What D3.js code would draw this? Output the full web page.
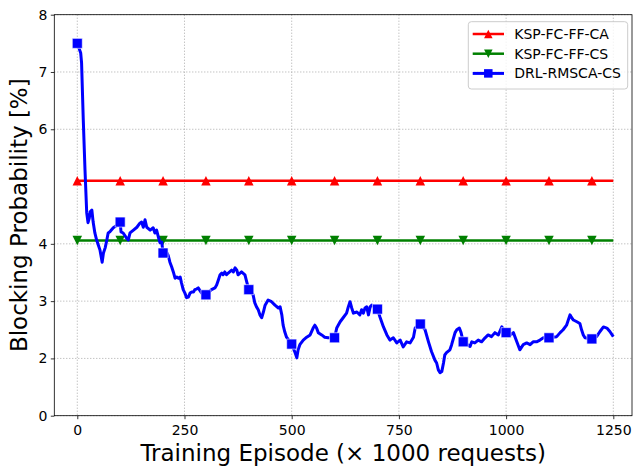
<!DOCTYPE html>
<html>
<head>
<meta charset="utf-8">
<script src="https://cdn.jsdelivr.net/npm/d3@7"></script>
<style>
body { margin: 0; background: #fff; }
svg { display: block; font-family: "DejaVu Sans", sans-serif; }
</style>
</head>
<body>
<div id="chart"></div>
<script>
// values
var episodes = [
  0, 8, 10, 14, 18, 22, 25, 28, 30, 34,
  37, 41, 45, 49, 53, 58, 61, 65, 69, 72,
  76, 84, 90, 100, 102, 107, 115, 119, 123, 131,
  139, 146, 150, 154, 158, 162, 170, 177, 181, 185,
  189, 193, 197, 200, 206, 212, 216, 220, 224, 228,
  232, 236, 240, 243, 247, 251, 255, 259, 263, 267,
  271, 274, 278, 282, 290, 300, 313, 321, 325, 329,
  333, 337, 340, 344, 348, 352, 360, 364, 368, 372,
  375, 383, 391, 395, 400, 410, 414, 418, 422, 426,
  430, 434, 438, 445, 453, 461, 469, 473, 477, 480,
  484, 488, 500, 508, 512, 515, 519, 527, 535, 543,
  550, 554, 558, 562, 570, 577, 585, 600, 605, 613,
  620, 628, 632, 636, 640, 644, 652, 659, 663, 667,
  671, 675, 679, 683, 687, 700, 706, 714, 722, 729,
  737, 745, 753, 760, 768, 776, 784, 788, 800, 811,
  819, 826, 834, 838, 842, 846, 850, 854, 857, 861,
  869, 873, 881, 885, 891, 895, 900, 916, 920, 927,
  935, 943, 951, 958, 966, 974, 982, 990, 1000, 1009,
  1017, 1025, 1032, 1040, 1048, 1056, 1063, 1071, 1079, 1087,
  1100, 1118, 1126, 1133, 1141, 1149, 1153, 1157, 1165, 1172,
  1176, 1180, 1184, 1200, 1211, 1219, 1227, 1235, 1242, 1250
];
var drlValues = [
  7.50, 7.33, 7.16, 6.16, 5.29, 4.54, 4.37, 4.45, 4.56, 4.59,
  4.38, 4.19, 4.07, 3.98, 3.89, 3.68, 3.84, 3.93, 4.07, 4.19,
  4.21, 4.28, 4.31, 4.38, 4.21, 4.19, 4.10, 4.07, 4.19, 4.24,
  4.29, 4.36, 4.38, 4.29, 4.42, 4.29, 4.24, 4.28, 4.19, 4.24,
  4.12, 4.02, 4.03, 3.84, 3.89, 3.80, 3.68, 3.60, 3.51, 3.40,
  3.42, 3.40, 3.42, 3.32, 3.20, 3.14, 3.06, 3.07, 3.14, 3.16,
  3.16, 3.20, 3.21, 3.23, 3.14, 3.11, 3.20, 3.23, 3.28, 3.37,
  3.46, 3.49, 3.46, 3.51, 3.46, 3.49, 3.54, 3.51, 3.58, 3.54,
  3.46, 3.51, 3.46, 3.34, 3.20, 3.11, 2.97, 2.90, 2.85, 2.76,
  2.71, 2.81, 2.93, 3.02, 2.99, 2.93, 2.88, 2.90, 2.76, 2.58,
  2.46, 2.37, 2.25, 2.10, 2.01, 2.15, 2.24, 2.32, 2.37, 2.41,
  2.53, 2.58, 2.53, 2.45, 2.41, 2.37, 2.36, 2.36, 2.53, 2.64,
  2.71, 2.79, 2.90, 2.99, 2.88, 2.79, 2.81, 2.76, 2.85, 2.79,
  2.88, 2.90, 2.76, 2.90, 2.93, 2.86, 2.72, 2.55, 2.41, 2.32,
  2.36, 2.27, 2.32, 2.20, 2.29, 2.27, 2.37, 2.53, 2.60, 2.50,
  2.29, 2.12, 1.97, 1.92, 1.80, 1.75, 1.77, 1.92, 2.06, 2.10,
  2.15, 2.24, 2.45, 2.50, 2.53, 2.45, 2.29, 2.21, 2.29, 2.27,
  2.32, 2.29, 2.36, 2.41, 2.38, 2.45, 2.41, 2.55, 2.45, 2.41,
  2.45, 2.29, 2.15, 2.24, 2.27, 2.24, 2.29, 2.29, 2.32, 2.36,
  2.36, 2.38, 2.45, 2.50, 2.58, 2.76, 2.71, 2.67, 2.64, 2.61,
  2.50, 2.41, 2.36, 2.34, 2.38, 2.47, 2.55, 2.53, 2.47, 2.38
];
var markerEpisodes = [0, 100, 200, 300, 400, 500, 600, 700, 800, 900, 1000, 1100, 1200];
var caLevel = 5.1;    // KSP-FC-FF-CA
var csLevel = 4.06;   // KSP-FC-FF-CS
var lastEpisode = 1250;

var xTicks = [0, 250, 500, 750, 1000, 1250];
var yTicks = [1, 2, 3, 4, 6, 7, 8];
var yTickLabels = ["0", "2", "3", "4", "6", "7", "8"];
var seriesNames = ["KSP-FC-FF-CA", "KSP-FC-FF-CS", "DRL-RMSCA-CS"];
var seriesColors = ["#ff0000", "#008000", "#0000ff"];

// dimensions
var svgWidth = 634, svgHeight = 466;
var margin = {top: 14.7, right: 2, bottom: 50.3, left: 54.3};
var width = svgWidth - margin.left - margin.right;
var height = svgHeight - margin.top - margin.bottom;

var svg = d3.select("#chart").append("svg")
  .attr("width", svgWidth)
  .attr("height", svgHeight);

var chartGroup = svg.append("g")
  .attr("transform", "translate(" + margin.left + "," + margin.top + ")");

var xScale = d3.scaleLinear().domain([-53.6, 1293.6]).range([0, width]);
var yScale = d3.scaleLinear().domain([1, 8]).range([height, 0]);

// grid
chartGroup.append("g").selectAll("line").data(xTicks).enter().append("line")
  .attr("x1", d => xScale(d)).attr("x2", d => xScale(d))
  .attr("y1", 0).attr("y2", height)
  .attr("stroke", "#aaaaaa").attr("stroke-width", 1).attr("stroke-dasharray", "1,2");
chartGroup.append("g").selectAll("line").data(yTicks).enter().append("line")
  .attr("x1", 0).attr("x2", width)
  .attr("y1", d => yScale(d)).attr("y2", d => yScale(d))
  .attr("stroke", "#aaaaaa").attr("stroke-width", 1).attr("stroke-dasharray", "1,2");

// marker shapes
function triUp(s) { return "M0," + (-s / 2) + "L" + (s / 2) + "," + (s / 2) + "L" + (-s / 2) + "," + (s / 2) + "Z"; }
function triDown(s) { return "M0," + (s / 2) + "L" + (s / 2) + "," + (-s / 2) + "L" + (-s / 2) + "," + (-s / 2) + "Z"; }
function square(s) { return "M" + (-s / 2) + "," + (-s / 2) + "h" + s + "v" + s + "h" + (-s) + "Z"; }

var line = d3.line().x(d => xScale(d[0])).y(d => yScale(d[1]));

// constant baselines
[[caLevel, seriesColors[0], triUp], [csLevel, seriesColors[1], triDown]].forEach(function(s) {
  chartGroup.append("path")
    .datum([[0, s[0]], [lastEpisode, s[0]]])
    .attr("d", line)
    .attr("fill", "none").attr("stroke", s[1]).attr("stroke-width", 2.5);
  chartGroup.append("g").selectAll("path").data(markerEpisodes).enter().append("path")
    .attr("transform", d => "translate(" + xScale(d) + "," + yScale(s[0]) + ")")
    .attr("d", s[2](9.5))
    .attr("fill", s[1]);
});

// DRL curve
var drlData = episodes.map((e, i) => [e, drlValues[i]]);
chartGroup.append("path")
  .datum(drlData)
  .attr("d", line)
  .attr("fill", "none").attr("stroke", seriesColors[2])
  .attr("stroke-width", 3).attr("stroke-linejoin", "round");
chartGroup.append("g").selectAll("path")
  .data(drlData.filter(d => markerEpisodes.indexOf(d[0]) >= 0))
  .enter().append("path")
  .attr("transform", d => "translate(" + xScale(d[0]) + "," + yScale(d[1]) + ")")
  .attr("d", square(10))
  .attr("fill", seriesColors[2])
  .attr("stroke", "#ffffff").attr("stroke-opacity", 0.6).attr("stroke-width", 1);

// axes
var bottomAxis = d3.axisBottom(xScale).tickValues(xTicks).tickSize(3.5).tickPadding(6).tickSizeOuter(0)
  .tickFormat(d3.format("d"));
var leftAxis = d3.axisLeft(yScale).tickValues(yTicks).tickSize(3.5).tickPadding(3.5).tickSizeOuter(0)
  .tickFormat((d, i) => yTickLabels[i]);

var gx = chartGroup.append("g").attr("transform", "translate(0," + height + ")").call(bottomAxis);
var gy = chartGroup.append("g").call(leftAxis);
[gx, gy].forEach(function(g) {
  g.select(".domain").remove();
  g.selectAll("line").attr("stroke", "#000").attr("stroke-width", 0.8);
  g.selectAll("text").attr("fill", "#000").style("font-size", "14px").style("font-family", "DejaVu Sans");
});

// frame
chartGroup.append("rect")
  .attr("width", width).attr("height", height)
  .attr("fill", "none").attr("stroke", "#000").attr("stroke-width", 0.8);

// axis labels
svg.append("text")
  .attr("x", margin.left + width / 2).attr("y", 461)
  .attr("text-anchor", "middle")
  .style("font-size", "23px")
  .text("Training Episode (\u00d7 1000 requests)");

svg.append("text")
  .attr("transform", "translate(26.5," + (margin.top + height / 2) + ") rotate(-90)")
  .attr("text-anchor", "middle")
  .style("font-size", "23px")
  .text("Blocking Probability [%]");

// legend
var legend = svg.append("g").attr("transform", "translate(468.3,21.7)");
legend.append("rect")
  .attr("width", 159.4).attr("height", 67.3).attr("rx", 3)
  .attr("fill", "#fff").attr("fill-opacity", 0.8)
  .attr("stroke", "#cccccc").attr("stroke-width", 1);
var legendShapes = [triUp, triDown, square];
seriesNames.forEach(function(name, i) {
  var y = 12.3 + i * 19.7;
  legend.append("line")
    .attr("x1", 4.4).attr("x2", 35.7).attr("y1", y).attr("y2", y)
    .attr("stroke", seriesColors[i]).attr("stroke-width", i === 2 ? 3 : 2.5);
  legend.append("path")
    .attr("transform", "translate(20," + y + ")")
    .attr("d", legendShapes[i](8.5))
    .attr("fill", seriesColors[i]);
  legend.append("text")
    .attr("x", 46).attr("y", y).attr("dy", "0.36em")
    .style("font-size", "14px")
    .text(name);
});
</script>
</body>
</html>
